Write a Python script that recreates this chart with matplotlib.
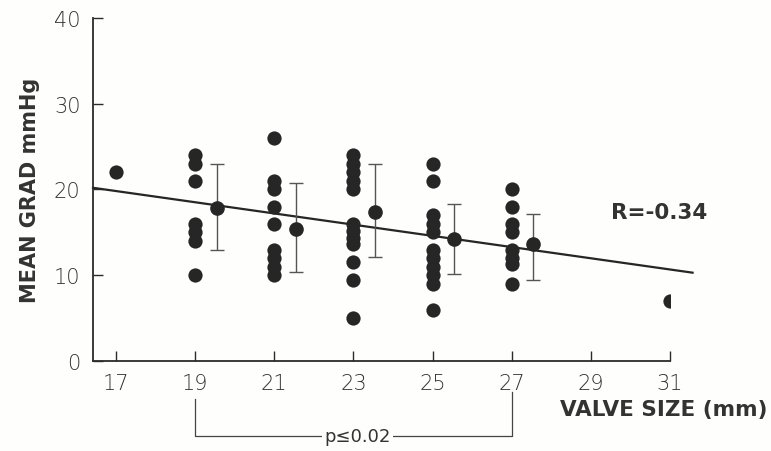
import matplotlib
matplotlib.use("Agg")
import matplotlib.pyplot as plt
import numpy as np

# ---- data ----
sizes_17 = [22]
sizes_19 = [24, 23, 21, 16, 15, 14, 10]
sizes_21 = [26, 21, 20, 18, 16, 13, 12, 11, 10]
sizes_23 = [24, 23, 22, 21, 20, 16, 15.2, 14.4, 13.6, 11.5, 9.5, 5]
sizes_25 = [23, 21, 17, 16, 15, 13, 12, 11, 10, 9, 6]
sizes_27 = [20, 18, 16, 15, 13, 12, 11.3, 9]
sizes_31 = [7]
valve_sizes = [17, 19, 21, 23, 25, 27, 31]
gradients = [sizes_17, sizes_19, sizes_21, sizes_23, sizes_25, sizes_27, sizes_31]

mean_x = [19.55, 21.55, 23.55, 25.55, 27.55]
mean_y = [17.9, 15.4, 17.4, 14.2, 13.6]
mean_lo = [12.9, 10.4, 12.1, 10.2, 9.5]
mean_hi = [23.0, 20.7, 23.0, 18.3, 17.1]

fit_x = [16.42, 31.57]
fit_y = [20.2, 10.3]

x_ticks = [17, 19, 21, 23, 25, 27, 29, 31]
y_ticks = [0, 10, 20, 30, 40]
r_text = "R=-0.34"
p_text = "p\u22640.02"

ink = "#262626"
bg = "#fefefc"

fig = plt.figure(figsize=(7.71, 4.52), dpi=100, facecolor=bg)
ax = fig.add_axes([93/771, 1-362/452, (670-93)/771, (362-19)/452])
ax.set_facecolor(bg)

xs, ys = [], []
for v, g in zip(valve_sizes, gradients):
    xs += [v]*len(g)
    ys += g
ax.scatter(xs, ys, s=105, color=ink, zorder=3, linewidths=0)

ax.plot(fit_x, fit_y, color=ink, lw=1.6, zorder=2, clip_on=False)

err = [np.array(mean_y)-np.array(mean_lo), np.array(mean_hi)-np.array(mean_y)]
ax.errorbar(mean_x, mean_y, yerr=err, fmt='o', color=ink, ecolor="#555555",
            elinewidth=1.0, capsize=5, capthick=1.0, markersize=9.5, zorder=4)

ax.set_xlim(16.42, 31)
ax.set_ylim(0, 40)
ax.set_xticks(x_ticks)
ax.set_yticks(y_ticks)
ax.set_xticklabels([str(t) for t in x_ticks])
ax.set_yticklabels([str(t) for t in y_ticks])
for s in ["top", "right"]:
    ax.spines[s].set_visible(False)
for s in ["left", "bottom"]:
    ax.spines[s].set_color("#2b2b2b")
    ax.spines[s].set_linewidth(1.3)
ax.tick_params(direction="in", length=7, width=1.0, color="#2b2b2b",
               labelsize=15, labelcolor="#333333", pad=9)
for lab in ax.get_xticklabels() + ax.get_yticklabels():
    lab.set_fontweight("light")

ax.set_ylabel("MEAN GRAD mmHg", fontsize=15, fontweight="bold", color="#333333", va="center")
ax.yaxis.set_label_coords(-0.109, 0.5)
fig.text(768/771, 1-410/452, "VALVE SIZE (mm)", ha="right", va="center",
         fontsize=15.5, fontweight="bold", color="#333333")

ax.text(29.5, 17.4, r_text, ha="left", va="center", fontsize=15.5,
        fontweight="bold", color="#333333")

# p-value bracket
yb = -8.75
ax.plot([19, 19, 27, 27], [-4.4, yb, yb, -3.6], color="#444444", lw=0.9, clip_on=False)
ax.text(23.1, yb, p_text, ha="center", va="center", fontsize=13,
        family=["DejaVu Sans"], fontweight="normal",
        color="#333333", bbox=dict(facecolor=bg, edgecolor="none", pad=1.5), clip_on=False)

fig.savefig("out.png", dpi=100, facecolor=bg)
